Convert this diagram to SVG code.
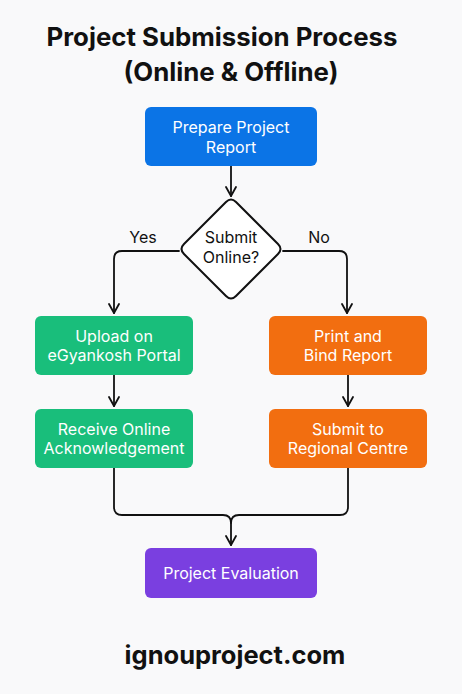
<svg xmlns="http://www.w3.org/2000/svg" width="462" height="694" viewBox="0 0 462 694">
<style>
.t{font-family:Inter,"Noto Sans",sans-serif;font-size:16px;fill:#fff;text-anchor:middle}
.d{font-family:Inter,"Noto Sans",sans-serif;font-size:16px;fill:#111;text-anchor:middle}
.h{font-family:Inter,"Liberation Sans",sans-serif;font-weight:700;fill:#111;text-anchor:middle}
.c{fill:none;stroke:#111;stroke-width:1.8;stroke-linejoin:round;stroke-linecap:round}
</style>
<defs>
<marker id="a" viewBox="0 0 12 12" refX="11" refY="6" markerWidth="12" markerHeight="12" markerUnits="userSpaceOnUse" orient="auto">
<path d="M2,1 L11,6 L2,11" fill="none" stroke="#111" stroke-width="1.8" stroke-linecap="round" stroke-linejoin="round"/>
</marker>
</defs>
<rect width="462" height="694" fill="#f9f9fa"/>
<g id="title">
<text class="h" x="222" y="46" font-size="25.8">Project Submission Process</text>
<text class="h" x="231" y="81" font-size="25.8">(Online &amp; Offline)</text>
</g>
<g id="connectors">
<path class="c" d="M231,166 V196" marker-end="url(#a)"/>
<path class="c" d="M179,251 H122 Q114,251 114,259 V313" marker-end="url(#a)"/>
<path class="c" d="M283,251 H339 Q347,251 347,259 V313" marker-end="url(#a)"/>
<path class="c" d="M114,375 V406" marker-end="url(#a)"/>
<path class="c" d="M348,375 V406" marker-end="url(#a)"/>
<path class="c" d="M114,468 V507 Q114,515 122,515 H223 Q231,515 231,523 V545" marker-end="url(#a)"/>
<path class="c" d="M348,468 V507 Q348,515 340,515 H239 Q231,515 231,523"/>
<text class="d" x="143" y="243">Yes</text>
<text class="d" x="319" y="243">No</text>
</g>
<g id="prepare">
<rect x="145" y="107" width="172" height="59" rx="6" fill="#0b74e6"/>
<text class="t" x="231" y="133">Prepare Project</text>
<text class="t" x="231" y="153">Report</text>
</g>
<g id="decision">
<path d="M226,202 Q231,197 236,202 L278,244 Q283,249 278,254 L236,296 Q231,301 226,296 L184,254 Q179,249 184,244 Z" fill="#fff" stroke="#111" stroke-width="2" stroke-linejoin="round"/>
<text class="d" x="231" y="243">Submit</text>
<text class="d" x="231" y="263">Online?</text>
</g>
<g id="upload">
<rect x="35" y="316" width="158" height="59" rx="6" fill="#19be7b"/>
<text class="t" x="114" y="342">Upload on</text>
<text class="t" x="114" y="361">eGyankosh Portal</text>
</g>
<g id="receive">
<rect x="35" y="409" width="158" height="59" rx="6" fill="#19be7b"/>
<text class="t" x="114" y="435">Receive Online</text>
<text class="t" x="114" y="454">Acknowledgement</text>
</g>
<g id="print">
<rect x="269" y="316" width="158" height="59" rx="6" fill="#f26e10"/>
<text class="t" x="348" y="342">Print and</text>
<text class="t" x="348" y="361">Bind Report</text>
</g>
<g id="submit">
<rect x="269" y="409" width="158" height="59" rx="6" fill="#f26e10"/>
<text class="t" x="348" y="435">Submit to</text>
<text class="t" x="348" y="454">Regional Centre</text>
</g>
<g id="evaluation">
<rect x="145" y="548" width="172" height="50" rx="6" fill="#7a3fe0"/>
<text class="t" x="231" y="579">Project Evaluation</text>
</g>
<g id="footer">
<text class="h" x="235" y="664" font-size="25.5">ignouproject.com</text>
</g>
</svg>
